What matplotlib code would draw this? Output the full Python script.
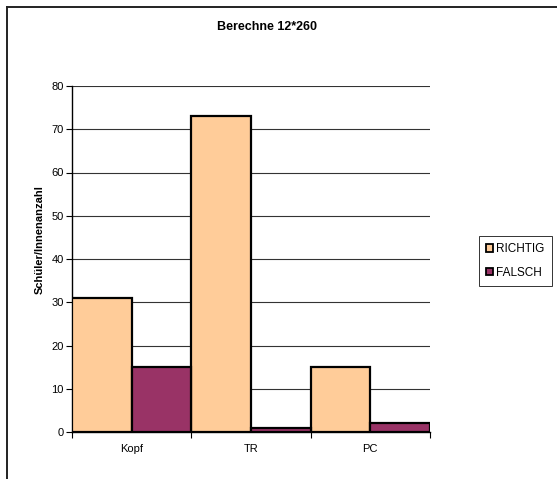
import numpy as np
import matplotlib.pyplot as plt
from matplotlib.lines import Line2D

plt.rcParams['font.family'] = ['Liberation Sans', 'DejaVu Sans']

categories = ["Kopf", "TR", "PC"]
richtig = [31, 73, 15]
falsch = [15, 1, 2]
series_names = ["RICHTIG", "FALSCH"]
yticks = [0, 10, 20, 30, 40, 50, 60, 70, 80]

W, H = 557, 479
fig = plt.figure(figsize=(W / 100, H / 100), dpi=100)
ax = fig.add_axes([72 / W, 1 - 432 / H, (430 - 72) / W, (432 - 86) / H])

x = np.arange(len(categories))
w = 0.5
ax.bar(x - w / 2, richtig, width=w, color="#FFCC99", edgecolor="black", linewidth=1.6,
       label=series_names[0], zorder=3)
ax.bar(x + w / 2, falsch, width=w, color="#993366", edgecolor="black", linewidth=1.6,
       label=series_names[1], zorder=3)

ax.set_xlim(-0.5, len(categories) - 0.5)
ax.set_ylim(0, 80)
ax.set_yticks(yticks)
ax.tick_params(axis='y', labelsize=8, length=4, width=0.8, direction='out', pad=2)
for y in yticks[1:]:
    ax.axhline(y, color="#333333", linewidth=0.8, zorder=1)

ax.set_xticks(x)
ax.set_xticklabels(categories)
ax.tick_params(axis='x', which='major', length=0, labelsize=8, pad=9)
ax.set_xticks(np.arange(len(categories) + 1) - 0.5, minor=True)
ax.tick_params(axis='x', which='minor', length=4, width=0.8, direction='out')

for s in ["top", "right"]:
    ax.spines[s].set_visible(False)
ax.spines["left"].set_linewidth(1.0)
ax.spines["bottom"].set_linewidth(1.0)

ax.set_ylabel("Schüler/Innenanzahl", fontsize=8, fontweight="bold")
ax.yaxis.set_label_coords(45 / W, 0.5, transform=fig.transFigure)
fig.text(267 / W, 1 - 27 / H, "Berechne 12*260", ha="center", va="center",
         fontsize=9, fontweight="bold")

leg = ax.legend(loc="upper left", bbox_to_anchor=(479 / W, 1 - 236 / H),
                bbox_transform=fig.transFigure, fontsize=8.5, frameon=True,
                fancybox=False, edgecolor="black", handlelength=0.6, handleheight=0.6,
                handletextpad=0.25, borderpad=0.6, labelspacing=1.0, borderaxespad=0)
leg.get_frame().set_linewidth(0.7)
for h in leg.legend_handles:
    h.set_linewidth(1.3)

# outer chart border
fig.add_artist(Line2D([7 / W, 7 / W], [0, 1 - 7 / H], transform=fig.transFigure,
                      color="#222222", linewidth=1.4))
fig.add_artist(Line2D([7 / W, 1], [1 - 7 / H, 1 - 7 / H], transform=fig.transFigure,
                      color="#222222", linewidth=1.4))

fig.savefig("out.png", dpi=100)
